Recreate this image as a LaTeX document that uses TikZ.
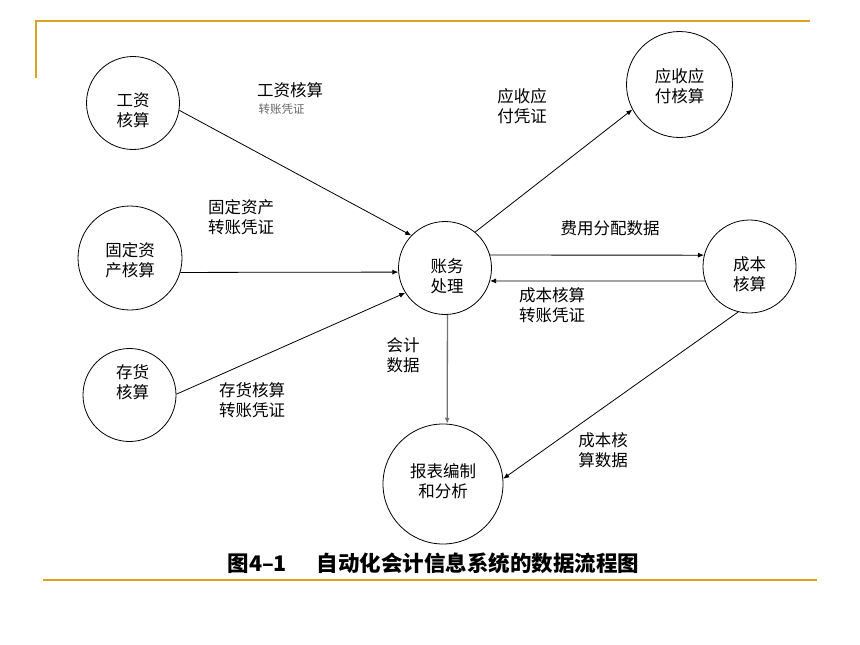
\documentclass[tikz,border=0pt]{standalone}
\usepackage{fontspec}
\usepackage{tikz}
\usetikzlibrary{positioning}
\usetikzlibrary{arrows.meta}
\newfontfamily\cjk{Noto Sans CJK SC}
\definecolor{slideGold}{HTML}{D9A521}
\tikzset{every picture/.style={line width=0.8pt, >={Latex[length=6pt,width=5pt]}}}
\tikzset{
  proc/.style={circle, draw=black, fill=white, inner sep=0pt, minimum size=#1},
  lbl/.style={align=center, font=\cjk\fontsize{16.5}{20}\selectfont},
  smalllbl/.style={font=\cjk\fontsize{11.5}{13}\selectfont, text=black!60},
  rule/.style={draw=slideGold, line width=2pt}
}
\begin{document}
\begin{tikzpicture}[x=1pt, y=-1pt]
        \useasboundingbox (0,0) rectangle (860,645);
        % slide rules
        \coordinate (r1) at (36,78);
        \coordinate (r2) at (36,21);
        \coordinate (r3) at (810,21);
        \coordinate (r4) at (43,580);
        \coordinate (r5) at (817,580);
        \draw[rule] (r1) -- (r2) -- (r3);
        \draw[rule] (r4) -- (r5);
        % processes
        \node[proc=93pt, label={[lbl, yshift=-7pt]center:工资\\核算}] (gz) at (133,103) {};
        \node[proc=104pt, label={[lbl, yshift=-2pt]center:固定资\\产核算}] (gd) at (130,258) {};
        \node[proc=93pt, label={[lbl, xshift=3pt, yshift=13pt]center:存货\\核算}] (ch) at (129.5,395) {};
        \node[proc=93pt, label={[lbl, xshift=2pt, yshift=-8pt]center:账务\\处理}] (zw) at (445,268) {};
        \node[proc=106pt, label={[lbl, yshift=-2pt]center:应收应\\付核算}] (ys) at (679.5,84.5) {};
        \node[proc=93pt, label={[lbl, yshift=-8pt]center:成本\\核算}] (cb) at (749.5,266.5) {};
        \node[proc=120pt, label={[lbl, yshift=3pt]center:报表编制\\和分析}] (bb) at (443,484) {};
        % flows
        \draw[->] (gz.-9) -- (zw.136);
        \draw[->] (gd.-16) -- (zw.185);
        \draw[->] (ch.1) -- (zw.-148);
        \draw[->] (zw.50) -- (ys.208);
        \draw[->] (zw.16) -- (cb.166);
        \draw[->] (cb.198) -- (zw.-16);
        \draw[->, draw=black!55, line width=1.3pt] (zw.-87) -- (bb.86);
        \draw[->] (cb.256) -- (bb.5);
        % flow labels
        \node[lbl] (l1) at (290,90) {工资核算};
        \node[smalllbl, anchor=north west] (l1b) at (255,100) {转账凭证};
        \node[lbl] (l2) at (241,217) {固定资产\\转账凭证};
        \node[lbl] (l3) at (252,400) {存货核算\\转账凭证};
        \node[lbl] (l4) at (522,106) {应收应\\付凭证};
        \node[lbl] (l5) at (610,228) {费用分配数据};
        \node[lbl] (l6) at (552,305) {成本核算\\转账凭证};
        \node[lbl] (l7) at (403,355) {会计\\数据};
        \node[lbl] (l8) at (603,450) {成本核\\算数据};
        % caption
        \node[font=\cjk\bfseries\fontsize{21.5}{24}\selectfont] (cap) at (433.5,563) {图4–1\hspace{30pt}自动化会计信息系统的数据流程图};
    \end{tikzpicture}
\end{document}
